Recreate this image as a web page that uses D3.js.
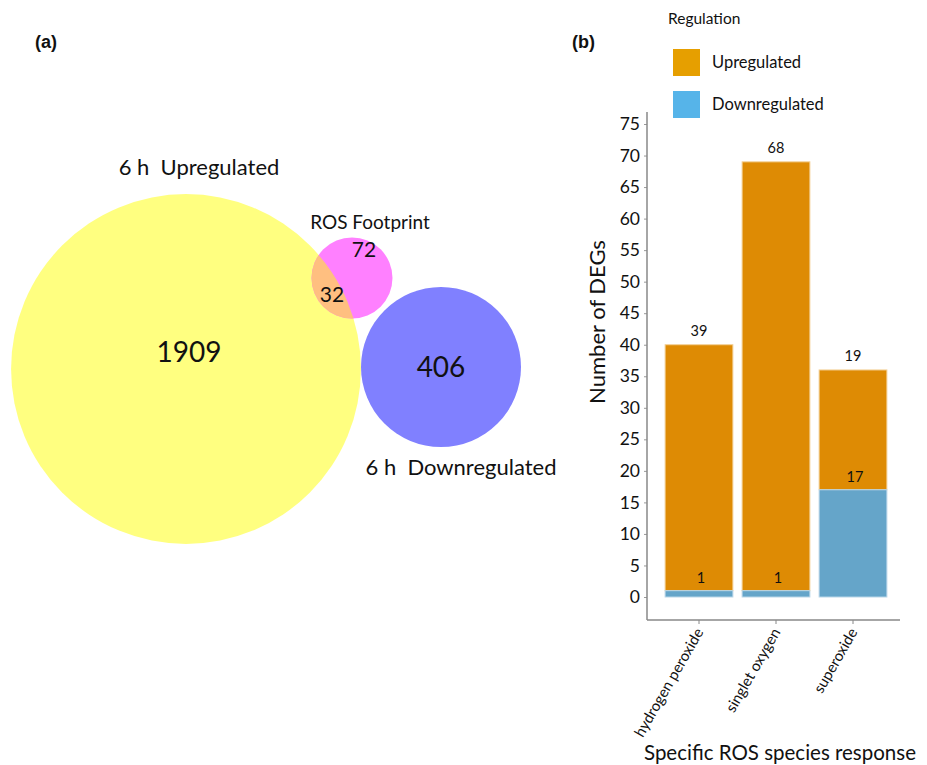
<!DOCTYPE html>
<html>
<head>
<meta charset="utf-8">
<script src="https://cdn.jsdelivr.net/npm/d3@7"></script>
<style>
  body { margin: 0; background: #fff; }
  text { font-family: Lato, "Open Sans", sans-serif; fill: #111; }
</style>
</head>
<body>
<div id="chart"></div>
<script>
// venn panel data
const vennSets = ["6 h Upregulated", "ROS Footprint", "6 h Downregulated"];
const vennOnly = [1909, 72, 406];      // unique counts
const vennOverlap = 32;                // 6 h up ∩ ROS footprint

// bar panel data
const categories = ["hydrogen peroxide", "singlet oxygen", "superoxide"];
const upValues = [39, 68, 19];
const downValues = [1, 1, 17];
const yTicks = [0, 5, 10, 15, 20, 25, 30, 35, 40, 45, 50, 55, 60, 65, 70, 75];
const legendLabels = ["Upregulated", "Downregulated"];

var svg = d3.select("#chart").append("svg")
    .attr("width", 927)
    .attr("height", 765);

//panel letters
svg.append("text").attr("x", 35).attr("y", 48)
    .style("font-family", "Liberation Sans, Arial, sans-serif")
    .style("font-weight", "bold").style("font-size", "18px").text("(a)");
svg.append("text").attr("x", 572).attr("y", 48)
    .style("font-family", "Liberation Sans, Arial, sans-serif")
    .style("font-weight", "bold").style("font-size", "18px").text("(b)");

//---------------- venn ----------------
// radius proportional to sqrt of set size
var rScale = d3.scaleSqrt().domain([0, 406]).range([0, 80]);
var rUp = rScale(vennOnly[0] + vennOverlap);
var rRos = rScale(vennOnly[1] + vennOverlap);
var rDown = rScale(vennOnly[2]);

var cUp = [186, 369], cRos = [352, 278], cDown = [441, 367];

var venn = svg.append("g");

venn.append("circle").attr("cx", cUp[0]).attr("cy", cUp[1]).attr("r", rUp)
    .style("fill", "#ffff80");
venn.append("circle").attr("cx", cDown[0]).attr("cy", cDown[1]).attr("r", rDown)
    .style("fill", "#8080ff");
venn.append("circle").attr("cx", cRos[0]).attr("cy", cRos[1]).attr("r", rRos)
    .style("fill", "#ff80ff");

svg.append("clipPath").attr("id", "clipUp")
    .append("circle").attr("cx", cUp[0]).attr("cy", cUp[1]).attr("r", rUp);
venn.append("circle").attr("cx", cRos[0]).attr("cy", cRos[1]).attr("r", rRos)
    .attr("clip-path", "url(#clipUp)")
    .style("fill", "#ffbf80");

venn.append("text").attr("x", 189).attr("y", 362).attr("text-anchor", "middle")
    .style("font-size", "28px").text(vennOnly[0]);
venn.append("text").attr("x", 441).attr("y", 377).attr("text-anchor", "middle")
    .style("font-size", "28px").text(vennOnly[2]);
venn.append("text").attr("x", 364).attr("y", 257).attr("text-anchor", "middle")
    .style("font-size", "21px").text(vennOnly[1]);
venn.append("text").attr("x", 332).attr("y", 302).attr("text-anchor", "middle")
    .style("font-size", "21px").text(vennOverlap);

venn.append("text").attr("x", 199).attr("y", 175).attr("text-anchor", "middle")
    .style("font-size", "22px").attr("xml:space", "preserve").text("6 h  Upregulated");
venn.append("text").attr("x", 370).attr("y", 229).attr("text-anchor", "middle")
    .style("font-size", "19px").text(vennSets[1]);
venn.append("text").attr("x", 461).attr("y", 475).attr("text-anchor", "middle")
    .style("font-size", "22px").attr("xml:space", "preserve").text("6 h  Downregulated");

//---------------- bars ----------------
var x = d3.scaleBand()
    .domain(categories)
    .range([660.5, 891.5])
    .paddingInner(0.12)
    .paddingOuter(0.06);

var y = d3.scaleLinear()
    .domain([0, 75])
    .range([597, 124]);

var bars = svg.append("g");

//y axis
var yAxis = bars.append("g")
    .attr("transform", "translate(647,0)")
    .call(d3.axisLeft(y).tickValues(yTicks).tickSize(3).tickSizeOuter(0));
yAxis.select(".domain").remove();
yAxis.selectAll(".tick line").style("stroke", "#999");
yAxis.selectAll(".tick text")
    .style("font-family", "Lato, sans-serif")
    .style("font-size", "17.5px").style("fill", "#111").attr("x", -7);
bars.append("line").attr("x1", 647).attr("x2", 647).attr("y1", 112).attr("y2", 620)
    .style("stroke", "#888").style("stroke-width", 1.5);

//x axis
bars.append("line").attr("x1", 647).attr("x2", 900).attr("y1", 620).attr("y2", 620)
    .style("stroke", "#888").style("stroke-width", 1.5);
bars.selectAll(".xtick")
    .data(categories)
    .enter()
    .append("line")
    .attr("x1", function(d) { return x(d) + x.bandwidth() / 2; })
    .attr("x2", function(d) { return x(d) + x.bandwidth() / 2; })
    .attr("y1", 620).attr("y2", 624)
    .style("stroke", "#888");
bars.selectAll(".xlab")
    .data(categories)
    .enter()
    .append("text")
    .attr("text-anchor", "end")
    .attr("transform", function(d) {
        return "translate(" + (x(d) + x.bandwidth() / 2 + 5) + ",632) rotate(-60)";
    })
    .style("font-size", "15px")
    .text(function(d) { return d; });

//upregulated segments sit on top of the downregulated ones
bars.selectAll(".up")
    .data(categories)
    .enter()
    .append("rect")
    .attr("x", function(d) { return x(d); })
    .attr("width", x.bandwidth())
    .attr("y", function(d, i) { return y(upValues[i] + downValues[i]); })
    .attr("height", function(d, i) { return y(downValues[i]) - y(upValues[i] + downValues[i]); })
    .style("fill", "#de8b04")
    .style("stroke", "#f3cf95").style("stroke-width", 1);

bars.selectAll(".down")
    .data(categories)
    .enter()
    .append("rect")
    .attr("x", function(d) { return x(d); })
    .attr("width", x.bandwidth())
    .attr("y", function(d, i) { return y(downValues[i]); })
    .attr("height", function(d, i) { return y(0) - y(downValues[i]); })
    .style("fill", "#65a5c9")
    .style("stroke", "#b9d6e8").style("stroke-width", 1);

//value labels
bars.selectAll(".uplab")
    .data(categories)
    .enter()
    .append("text")
    .attr("x", function(d) { return x(d) + x.bandwidth() / 2; })
    .attr("y", function(d, i) { return y(upValues[i] + downValues[i]) - 9; })
    .attr("text-anchor", "middle")
    .style("font-size", "14.5px")
    .text(function(d, i) { return upValues[i]; });

bars.selectAll(".downlab")
    .data(categories)
    .enter()
    .append("text")
    .attr("x", function(d) { return x(d) + x.bandwidth() / 2 + 2; })
    .attr("y", function(d, i) { return y(downValues[i]) - 8; })
    .attr("text-anchor", "middle")
    .style("font-size", "14.5px")
    .text(function(d, i) { return downValues[i]; });

//axis titles
bars.append("text")
    .attr("text-anchor", "middle")
    .attr("transform", "translate(605,322) rotate(-90)")
    .style("font-size", "22px")
    .text("Number of DEGs");
bars.append("text")
    .attr("x", 780).attr("y", 760)
    .attr("text-anchor", "middle")
    .style("font-size", "20.5px")
    .text("Specific ROS species response");

//legend
var legendColors = ["#e69f00", "#56b4e9"];
svg.append("text").attr("x", 668).attr("y", 24)
    .style("font-size", "15.5px").text("Regulation");
var leg = svg.selectAll(".leg")
    .data(legendLabels)
    .enter()
    .append("g")
    .attr("transform", function(d, i) { return "translate(673," + (49 + i * 42) + ")"; });
leg.append("rect").attr("width", 27).attr("height", 27)
    .style("fill", function(d, i) { return legendColors[i]; });
leg.append("text").attr("x", 39).attr("y", 19)
    .style("font-size", "16.5px")
    .text(function(d) { return d; });
</script>
</body>
</html>
